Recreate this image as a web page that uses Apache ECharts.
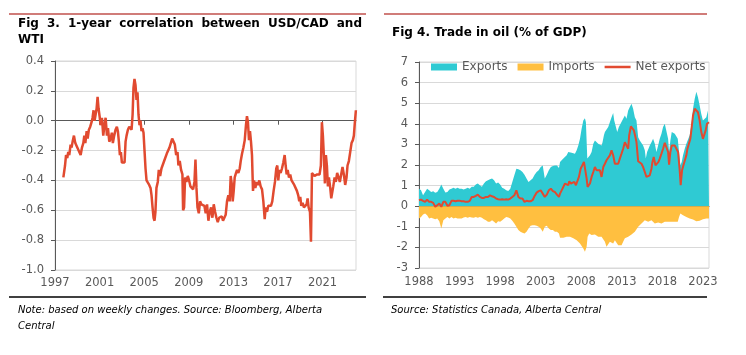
<!DOCTYPE html>
<html><head><meta charset="utf-8">
<script src="https://cdn.jsdelivr.net/npm/echarts@6/dist/echarts.min.js"></script>
<style>html,body{margin:0;padding:0;background:#fff;}#c{width:746px;height:355px;}</style>
</head><body><div id="c"></div>
<script>
const FONT = 'DejaVu Sans';

// ---------- Fig 3: 1-year correlation USD/CAD vs WTI ----------
const corrYears = [
1997.75,1997.90,1997.99,1998.10,1998.19,1998.28,1998.40,1998.49,1998.58,1998.70,1998.82,1998.94,
1999.06,1999.18,1999.30,1999.42,1999.54,1999.63,1999.72,1999.84,1999.93,2000.04,2000.16,2000.28,
2000.37,2000.46,2000.55,2000.64,2000.73,2000.82,2000.91,2001.00,2001.09,2001.21,2001.33,2001.42,
2001.54,2001.66,2001.75,2001.87,2001.99,2002.10,2002.19,2002.31,2002.43,2002.55,2002.64,2002.73,
2002.82,2002.91,2003.00,2003.12,2003.24,2003.33,2003.42,2003.54,2003.66,2003.78,2003.87,2003.96,
2004.04,2004.13,2004.22,2004.31,2004.40,2004.49,2004.58,2004.67,2004.76,2004.85,2004.94,2005.03,
2005.12,2005.21,2005.33,2005.45,2005.57,2005.66,2005.75,2005.84,2005.93,2006.01,2006.10,2006.22,
2006.31,2006.43,2006.55,2006.67,2006.79,2006.91,2007.03,2007.15,2007.27,2007.39,2007.51,2007.63,
2007.75,2007.87,2007.99,2008.07,2008.19,2008.31,2008.43,2008.49,2008.58,2008.67,2008.79,2008.91,
2009.03,2009.15,2009.27,2009.39,2009.51,2009.60,2009.69,2009.78,2009.90,2010.01,2010.13,
2010.28,2010.40,2010.52,2010.64,2010.76,2010.88,2011.00,2011.12,2011.24,2011.36,2011.48,2011.60,
2011.72,2011.84,2011.96,2012.07,2012.19,2012.31,2012.43,2012.55,2012.67,2012.76,2012.85,2012.94,
2013.03,2013.12,2013.24,2013.33,2013.45,2013.57,2013.66,2013.78,2013.90,2014.02,2014.13,2014.22,
2014.31,2014.40,2014.49,2014.58,2014.67,2014.76,2014.85,2014.97,2015.09,2015.21,2015.33,2015.45,
2015.57,2015.69,2015.81,2015.90,2016.02,2016.13,2016.25,2016.37,2016.49,2016.61,2016.73,2016.85,
2016.94,2017.03,2017.12,2017.24,2017.36,2017.48,2017.60,2017.69,2017.78,2017.87,2017.99,2018.10,
2018.22,2018.34,2018.46,2018.58,2018.70,2018.82,2018.91,2019.00,2019.09,2019.21,2019.33,2019.45,
2019.57,2019.66,2019.75,2019.87,2019.96,2020.05,2020.16,2020.28,2020.40,2020.52,2020.64,2020.73,
2020.85,2020.94,2021.03,2021.12,2021.21,2021.30,2021.39,2021.48,2021.57,2021.69,2021.78,2021.87,
2021.96,2022.08,2022.19,2022.31,2022.43,2022.55,2022.67,2022.79,2022.91,2023.03,2023.15,2023.24,
2023.36,2023.48,2023.60,2023.72,2023.81,2023.90,2023.99
];
const corrValues = [
-0.38,-0.30,-0.23,-0.25,-0.21,-0.23,-0.16,-0.18,-0.14,-0.10,-0.15,-0.17,
-0.16,-0.21,-0.23,-0.18,-0.15,-0.10,-0.15,-0.07,-0.12,-0.06,-0.04,-0.01,
0.02,0.07,0.00,-0.01,0.08,0.16,0.08,0.03,-0.03,0.02,-0.10,-0.04,
0.02,-0.10,-0.05,-0.14,-0.12,-0.08,-0.15,-0.10,-0.06,-0.04,-0.07,-0.14,
-0.23,-0.21,-0.28,-0.27,-0.28,-0.14,-0.10,-0.06,-0.04,-0.03,-0.06,0.04,
0.22,0.28,0.24,0.14,0.19,0.04,-0.03,0.00,-0.07,-0.05,-0.08,-0.20,
-0.32,-0.40,-0.41,-0.43,-0.45,-0.50,-0.58,-0.65,-0.67,-0.61,-0.45,-0.41,
-0.33,-0.37,-0.32,-0.33,-0.27,-0.26,-0.22,-0.23,-0.18,-0.17,-0.12,-0.14,
-0.16,-0.23,-0.21,-0.30,-0.27,-0.33,-0.36,-0.60,-0.58,-0.38,-0.41,-0.37,
-0.40,-0.44,-0.45,-0.46,-0.41,-0.26,-0.45,-0.58,-0.62,-0.54,-0.56,
-0.55,-0.57,-0.62,-0.56,-0.67,-0.61,-0.58,-0.65,-0.56,-0.61,-0.65,-0.68,
-0.65,-0.66,-0.64,-0.67,-0.65,-0.63,-0.54,-0.50,-0.54,-0.37,-0.42,-0.54,
-0.47,-0.38,-0.35,-0.33,-0.35,-0.32,-0.27,-0.22,-0.18,-0.13,-0.03,0.03,
-0.01,-0.13,-0.07,-0.14,-0.23,-0.47,-0.40,-0.45,-0.41,-0.43,-0.40,-0.44,
-0.46,-0.54,-0.66,-0.58,-0.61,-0.57,-0.58,-0.57,-0.54,-0.47,-0.41,-0.32,
-0.30,-0.40,-0.33,-0.35,-0.32,-0.28,-0.23,-0.30,-0.36,-0.33,-0.38,-0.36,
-0.40,-0.41,-0.43,-0.44,-0.47,-0.50,-0.54,-0.51,-0.57,-0.55,-0.58,-0.58,
-0.56,-0.52,-0.58,-0.61,-0.81,-0.35,-0.35,-0.37,-0.36,-0.36,-0.35,-0.36,
-0.30,-0.01,-0.10,-0.24,-0.42,-0.23,-0.30,-0.44,-0.38,-0.45,-0.52,-0.53,
-0.44,-0.38,-0.41,-0.35,-0.36,-0.41,-0.36,-0.31,-0.36,-0.43,-0.38,-0.30,
-0.27,-0.21,-0.15,-0.13,-0.10,-0.01,0.07
];
const corrTickYears = [1997, 2001, 2005, 2009, 2013, 2017, 2021];

// ---------- Fig 4: Trade in oil (% of GDP) ----------
const tradeQuarterYears = [
1988,1988.25,1988.5,1988.75,1989,1989.25,1989.5,1989.75,1990,1990.25,1990.5,1990.75,
1991,1991.25,1991.5,1991.75,1992,1992.25,1992.5,1992.75,1993,1993.25,1993.5,1993.75,
1994,1994.25,1994.5,1994.75,1995,1995.25,1995.5,1995.75,1996,1996.25,1996.5,1996.75,
1997,1997.25,1997.5,1997.75,1998,1998.25,1998.5,1998.75,1999,1999.25,1999.5,1999.75,
2000,2000.25,2000.5,2000.75,2001,2001.25,2001.5,2001.75,2002,2002.25,2002.5,2002.75,
2003,2003.25,2003.5,2003.75,2004,2004.25,2004.5,2004.75,2005,2005.25
];
const exportLateYears = [
2005.38,2005.58,2005.79,2005.99,2006.20,2006.40,2006.61,2006.81,2007.02,2007.22,
2007.43,2007.63,2007.84,2008.04,2008.25,2008.45,2008.57,2008.74,2008.86,2009.07,
2009.27,2009.48,2009.68,2009.89,2010.09,2010.30,2010.50,2010.62,2010.79,2010.91,
2011.11,2011.32,2011.52,2011.73,2011.93,2012.06,2012.22,2012.43,2012.63,2012.84,
2013.04,2013.16,2013.37,2013.57,2013.78,2013.98,2014.19,2014.39,2014.60,2014.80,
2015.01,2015.21,2015.42,2015.62,2015.83,2015.95,2016.11,2016.28,2016.44,2016.65,
2016.85,2017.06,2017.26,2017.47,2017.67,2017.88,2018.08,2018.29,2018.49,2018.70,
2018.82,2018.98,2019.15,2019.31,2019.52,2019.72,2019.89,2020.05,2020.21,2020.38,
2020.54,2020.75,2020.95,2021.16,2021.36,2021.57,2021.77,2021.98,2022.18,2022.38,
2022.59,2022.79,2022.99,2023.20,2023.41,2023.61,2023.74
];
const exportValues = [
0.85,0.77,0.53,0.69,0.85,0.77,0.69,0.73,0.65,0.69,
0.85,1.05,0.85,0.66,0.69,0.81,0.85,0.89,0.85,0.89,
0.85,0.85,0.81,0.85,0.89,0.85,0.94,0.94,1.05,1.10,
1.02,0.94,1.10,1.21,1.26,1.31,1.34,1.26,1.10,1.15,
1.05,0.89,0.85,0.77,0.74,0.85,1.18,1.50,1.82,1.79,
1.74,1.66,1.53,1.34,1.18,1.26,1.34,1.53,1.66,1.74,
1.90,1.98,1.34,1.53,1.74,1.90,1.95,1.98,1.98,1.85,
2.15,2.18,2.31,2.39,2.47,2.63,2.63,2.60,2.63,2.55,
2.71,2.95,3.27,3.76,4.16,4.27,4.08,2.31,2.39,2.47,
2.63,3.03,3.19,3.11,3.03,2.95,2.95,3.11,3.44,3.60,
3.68,3.84,3.92,4.32,4.53,4.16,3.92,3.60,3.84,4.00,
3.92,4.24,4.40,4.24,4.65,4.81,4.97,4.73,4.32,4.16,
3.35,3.19,3.11,2.95,2.71,2.31,2.63,2.79,2.95,3.11,
3.27,3.03,2.63,2.95,3.27,3.52,3.84,4.00,3.92,3.27,
2.63,3.19,3.60,3.60,3.52,3.52,3.27,2.63,1.98,2.15,
2.47,2.79,3.03,3.08,3.44,3.92,4.73,5.21,5.56,5.29,
4.89,4.48,4.16,4.08,4.32,4.65,4.69
];
const importLateYears = [
2005.38,2005.58,2005.79,2005.99,2006.20,2006.40,2006.61,2006.81,2007.02,2007.22,
2007.43,2007.63,2007.84,2008.04,2008.25,2008.45,2008.66,2008.78,2008.98,
2009.27,2009.48,2009.68,2009.89,2010.09,2010.30,2010.50,2010.71,2010.91,2011.11,
2011.32,2011.52,2011.73,2011.93,2012.14,2012.34,2012.55,2012.75,2012.96,2013.16,
2013.37,2013.57,2013.78,2013.98,2014.19,2014.39,2014.60,2014.80,2015.01,2015.21,
2015.42,2015.62,2015.83,2016.03,2016.24,2016.44,2016.65,2016.85,2017.06,2017.26,
2017.47,2017.67,2017.88,2018.08,2018.29,2018.49,2018.70,2018.90,2019.11,2019.31,
2019.52,2019.72,2019.89,2020.05,2020.21,2020.38,2020.54,2020.75,2020.95,2021.16,
2021.36,2021.57,2021.77,2021.98,2022.18,2022.38,2022.59,2022.79,2022.99,2023.20,
2023.41,2023.61,2023.74
];
const importValues = [
-0.60,-0.52,-0.40,-0.35,-0.44,-0.60,-0.56,-0.60,-0.63,-0.60,
-0.73,-1.08,-0.68,-0.60,-0.52,-0.60,-0.52,-0.60,-0.56,-0.60,
-0.60,-0.60,-0.55,-0.53,-0.56,-0.52,-0.55,-0.56,-0.52,-0.56,
-0.52,-0.56,-0.63,-0.68,-0.76,-0.76,-0.68,-0.76,-0.84,-0.73,
-0.76,-0.68,-0.60,-0.52,-0.55,-0.60,-0.71,-0.84,-1.00,-1.16,
-1.24,-1.29,-1.32,-1.24,-1.08,-0.95,-0.92,-0.92,-0.95,-1.00,
-1.08,-1.24,-1.00,-0.95,-1.08,-1.16,-1.16,-1.24,-1.24,-1.32,
-1.53,-1.56,-1.53,-1.48,-1.48,-1.56,-1.48,-1.48,-1.56,-1.53,
-1.65,-1.65,-1.81,-1.89,-2.05,-2.21,-1.97,-1.48,-1.32,
-1.40,-1.40,-1.37,-1.40,-1.48,-1.56,-1.48,-1.53,-1.73,-1.97,
-1.89,-1.73,-1.65,-1.81,-1.65,-1.56,-1.89,-1.97,-1.89,-1.73,
-1.56,-1.56,-1.48,-1.40,-1.37,-1.32,-1.24,-1.16,-1.00,-0.92,
-0.84,-0.76,-0.68,-0.73,-0.76,-0.76,-0.68,-0.73,-0.84,-0.84,
-0.79,-0.76,-0.84,-0.84,-0.76,-0.84,-0.76,-0.84,-0.76,-0.84,
-0.76,-0.84,-0.76,-0.52,-0.35,-0.35,-0.44,-0.52,-0.52,-0.60,
-0.60,-0.68,-0.65,-0.68,-0.73,-0.76,-0.71,-0.68,-0.63,-0.60,
-0.60,-0.60,-0.60
];
const netLateYears = [
2005.38,2005.58,2005.79,2005.99,2006.20,2006.40,2006.52,2006.73,2006.93,2007.14,
2007.34,2007.51,2007.71,2007.92,2008.12,2008.33,2008.45,2008.66,2008.78,2008.90,
2009.07,2009.27,2009.48,2009.68,2009.89,2010.09,2010.30,2010.50,2010.71,2010.91,
2011.11,2011.32,2011.52,2011.73,2011.93,2012.14,2012.34,2012.55,2012.75,2012.96,
2013.16,2013.37,2013.57,2013.78,2013.90,2014.11,2014.31,2014.48,2014.68,2014.80,
2015.01,2015.21,2015.42,2015.62,2015.83,2016.03,2016.24,2016.44,2016.65,2016.77,
2016.93,2017.14,2017.30,2017.51,2017.67,2017.88,2018.08,2018.29,2018.49,2018.70,
2018.82,2018.98,2019.15,2019.31,2019.52,2019.72,2019.93,2020.13,2020.25,2020.42,
2020.58,2020.75,2020.95,2021.07,2021.28,2021.44,2021.61,2021.77,2021.98,2022.18,
2022.38,2022.59,2022.79,2022.99,2023.12,2023.33,2023.49,2023.74
];
const netValues = [
0.29,0.32,0.26,0.21,0.32,0.21,0.21,0.16,-0.03,0.05,
0.13,-0.03,0.21,0.21,0.02,0.05,0.26,0.26,0.24,0.26,
0.27,0.24,0.24,0.21,0.21,0.26,0.45,0.45,0.50,0.56,
0.45,0.40,0.40,0.45,0.45,0.53,0.48,0.45,0.37,0.34,
0.32,0.34,0.32,0.34,0.32,0.37,0.45,0.53,0.77,0.45,
0.37,0.37,0.21,0.26,0.24,0.24,0.29,0.50,0.66,0.73,
0.77,0.61,0.45,0.56,0.77,0.85,0.73,0.69,0.56,0.45,
0.61,0.77,0.85,1.10,1.18,1.02,1.21,1.10,1.15,1.18,
1.02,1.21,1.42,1.82,1.98,2.15,2.18,1.34,0.94,0.89,
1.10,1.42,1.66,1.90,1.74,1.66,1.74,1.42,1.90,2.06,
2.23,2.31,2.47,2.71,2.47,2.06,2.03,2.06,2.31,2.55,
2.79,3.11,2.95,2.79,3.44,3.87,3.84,3.68,3.35,3.11,
2.18,2.18,2.06,1.90,1.66,1.42,1.39,1.50,1.82,2.15,
2.39,1.98,1.98,2.15,2.31,2.55,2.79,3.08,3.15,2.63,
2.02,2.63,2.95,3.03,2.95,2.87,2.63,1.74,1.02,1.74,
1.98,2.06,2.47,2.76,2.79,3.27,3.84,4.40,4.73,4.81,
4.56,4.16,3.60,3.27,3.19,3.68,4.00,4.08
];
const tradeTickYears = [1988, 1993, 1998, 2003, 2008, 2013, 2018, 2023];
const tradeLegend = ['Exports', 'Imports', 'Net exports'];

// ---------- texts ----------
const fig3Title1 = 'Fig 3. 1-year correlation between USD/CAD and';
const fig3Title2 = 'WTI';
const fig4Title = 'Fig 4. Trade in oil (% of GDP)';
const note3a = 'Note: based on weekly changes. Source: Bloomberg, Alberta';
const note3b = 'Central';
const note4 = 'Source: Statistics Canada, Alberta Central';

const RED = '#E14A30', CYAN = '#2FCAD3', YELLOW = '#FFBF40';
const AXIS = '#595959', GRID = '#d9d9d9';

function pairs(xs, ys) { return xs.map((x, i) => [x, ys[i]]); }

const exportYears = tradeQuarterYears.concat(exportLateYears);
const importYears = tradeQuarterYears.concat(importLateYears);
const netYears = tradeQuarterYears.concat(netLateYears);

// justified title line
const titleFont = 'bold 12px "DejaVu Sans"';
const mctx = document.createElement('canvas').getContext('2d');
mctx.font = titleFont;
const words = fig3Title1.split(' ');
const wW = words.map(w => mctx.measureText(w).width);
const sumW = wW.reduce((a, b) => a + b, 0);
const gap = (344 - sumW) / (words.length - 1);
const titleEls = [];
let cx = 18;
words.forEach((w, i) => {
  titleEls.push({type: 'text', x: cx, y: 24, style: {text: w, font: titleFont, fill: '#000', verticalAlign: 'middle'}});
  cx += wW[i] + gap;
});

const labelStyle = {color: AXIS, fontSize: 11.5, fontFamily: FONT};
const yearFmt = v => String(Math.round(v));

const option = {
  animation: false,
  grid: [
    {left: 55, top: 61, width: 301, height: 209, show: true, borderColor: GRID, borderWidth: 1, backgroundColor: '#fff'},
    {left: 419, top: 62, width: 290, height: 206, show: true, borderColor: GRID, borderWidth: 1, backgroundColor: '#fff'}
  ],
  xAxis: [
    {gridIndex: 0, type: 'value', min: 1997, max: 2024, position: 'bottom',
      axisLine: {show: false, onZero: false}, axisTick: {show: false}, splitLine: {show: false},
      axisLabel: Object.assign({customValues: corrTickYears, margin: 7, formatter: yearFmt}, labelStyle)},
    {gridIndex: 0, type: 'value', min: 1997, max: 2024, position: 'bottom',
      axisLine: {show: true, onZero: true, lineStyle: {color: AXIS, width: 1}},
      axisTick: {show: true, customValues: corrTickYears, length: 4, lineStyle: {color: AXIS}},
      axisLabel: {show: false}, splitLine: {show: false}},
    {gridIndex: 1, type: 'value', min: 1988, max: 2023.74, position: 'bottom',
      axisLine: {show: false, onZero: false}, axisTick: {show: false}, splitLine: {show: false},
      axisLabel: Object.assign({customValues: tradeTickYears, margin: 8, formatter: yearFmt}, labelStyle)},
    {gridIndex: 1, type: 'value', min: 1988, max: 2023.74, position: 'bottom',
      axisLine: {show: true, onZero: true, lineStyle: {color: AXIS, width: 1}},
      axisTick: {show: true, customValues: tradeTickYears, length: 4, lineStyle: {color: AXIS}},
      axisLabel: {show: false}, splitLine: {show: false}}
  ],
  yAxis: [
    {gridIndex: 0, type: 'value', min: -1, max: 0.4, interval: 0.2,
      axisLine: {show: true, onZero: false, lineStyle: {color: AXIS}},
      axisTick: {show: true, length: 4, lineStyle: {color: AXIS}},
      axisLabel: Object.assign({margin: 11, formatter: v => (Math.abs(v) < 1e-9 ? 0 : v).toFixed(1)}, labelStyle),
      splitLine: {show: true, lineStyle: {color: GRID, width: 1}}},
    {gridIndex: 1, type: 'value', min: -3, max: 7, interval: 1,
      axisLine: {show: true, onZero: false, lineStyle: {color: AXIS}},
      axisTick: {show: true, length: 4, lineStyle: {color: AXIS}},
      axisLabel: Object.assign({margin: 11}, labelStyle),
      splitLine: {show: true, lineStyle: {color: GRID, width: 1}}}
  ],
  legend: {
    left: 431, top: 61, padding: 0, itemWidth: 26, itemHeight: 7, itemGap: 10,
    textStyle: {color: AXIS, fontSize: 12, fontFamily: FONT},
    data: [
      {name: tradeLegend[0], icon: 'rect', itemStyle: {color: CYAN}},
      {name: tradeLegend[1], icon: 'rect', itemStyle: {color: YELLOW}},
      {name: tradeLegend[2], icon: 'path://M0,0 H26 V2.5 H0 Z', itemStyle: {color: RED}}
    ]
  },
  series: [
    {type: 'line', xAxisIndex: 0, yAxisIndex: 0, data: pairs(corrYears, corrValues),
      symbol: 'none', lineStyle: {color: RED, width: 2.5}, z: 5},
    {name: tradeLegend[0], type: 'line', xAxisIndex: 2, yAxisIndex: 1, data: pairs(exportYears, exportValues),
      symbol: 'none', color: CYAN, lineStyle: {width: 0, color: CYAN}, areaStyle: {color: CYAN, opacity: 1}, z: 2},
    {name: tradeLegend[1], type: 'line', xAxisIndex: 2, yAxisIndex: 1, data: pairs(importYears, importValues),
      symbol: 'none', color: YELLOW, lineStyle: {width: 0, color: YELLOW}, areaStyle: {color: YELLOW, opacity: 1}, z: 2},
    {name: tradeLegend[2], type: 'line', xAxisIndex: 2, yAxisIndex: 1, data: pairs(netYears, netValues),
      symbol: 'none', color: RED, lineStyle: {color: RED, width: 2}, z: 4}
  ],
  graphic: [
    {type: 'line', shape: {x1: 9, y1: 14, x2: 366, y2: 14}, style: {stroke: '#C0504D', lineWidth: 1.5}},
    {type: 'line', shape: {x1: 384, y1: 14, x2: 707, y2: 14}, style: {stroke: '#C0504D', lineWidth: 1.5}},
    ...titleEls,
    {type: 'text', x: 18, y: 40, style: {text: fig3Title2, font: titleFont, fill: '#000', verticalAlign: 'middle'}},
    {type: 'text', x: 392, y: 33, style: {text: fig4Title, font: titleFont, fill: '#000', verticalAlign: 'middle'}},
    {type: 'line', shape: {x1: 9, y1: 297, x2: 366, y2: 297}, style: {stroke: '#000', lineWidth: 1.5}},
    {type: 'line', shape: {x1: 383, y1: 297, x2: 707, y2: 297}, style: {stroke: '#000', lineWidth: 1.5}},
    {type: 'text', x: 18, y: 310, style: {text: note3a, font: 'italic 10px "DejaVu Sans"', fill: '#000', verticalAlign: 'middle'}},
    {type: 'text', x: 18, y: 326, style: {text: note3b, font: 'italic 10px "DejaVu Sans"', fill: '#000', verticalAlign: 'middle'}},
    {type: 'text', x: 391, y: 310, style: {text: note4, font: 'italic 10px "DejaVu Sans"', fill: '#000', verticalAlign: 'middle'}}
  ]
};

const chart = echarts.init(document.getElementById('c'), null, {renderer: 'canvas'});
chart.setOption(option);
</script>
</body></html>
